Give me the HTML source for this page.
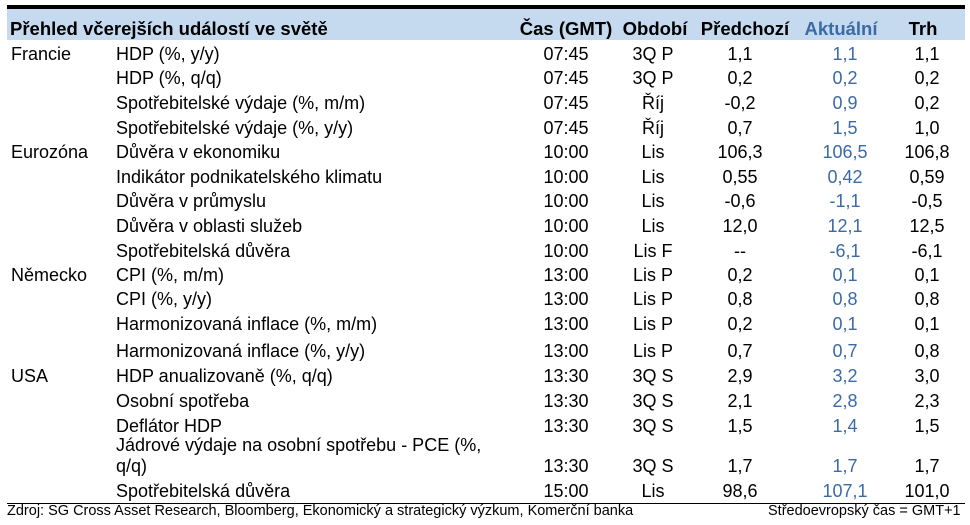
<!DOCTYPE html>
<html><head><meta charset="utf-8"><style>
body{margin:0;width:970px;height:525px;background:#fff;position:relative;overflow:hidden;font-family:"Liberation Sans",Arial,sans-serif;font-size:18px;color:#000}
.t{position:absolute;white-space:nowrap;line-height:20px}
.c{transform:translateX(-50%)}
.b{color:#3b6aa5}
.h{font-weight:bold;font-size:18.5px}
</style></head><body>
<div style="position:absolute;left:7px;top:5px;width:958px;height:4px;background:#000"></div>
<div style="position:absolute;left:7px;top:9px;width:958px;height:31px;background:#c5d9ef"></div>
<div style="position:absolute;left:7px;top:503px;width:958px;height:1px;background:#000"></div>
<div class="t h" style="left:10px;top:19px">Přehled včerejších událostí ve světě</div>
<div class="t h c" style="left:566px;top:19px">Čas (GMT)</div>
<div class="t h c" style="left:655px;top:19px">Období</div>
<div class="t h c" style="left:745px;top:19px">Předchozí</div>
<div class="t h c b" style="left:841px;top:19px">Aktuální</div>
<div class="t h c" style="left:923px;top:19px">Trh</div>
<div id="rows"></div>
<div class="t" style="left:7px;top:501px;font-size:14.5px">Zdroj: SG Cross Asset Research, Bloomberg, Ekonomický a strategický výzkum, Komerční banka</div>
<div class="t" style="left:768px;top:501px;font-size:14.5px">Středoevropský čas = GMT+1</div>
<script>
var R=[
[44,"Francie","HDP (%, y/y)","07:45","3Q P","1,1","1,1","1,1"],
[68,"","HDP (%, q/q)","07:45","3Q P","0,2","0,2","0,2"],
[93,"","Spotřebitelské výdaje (%, m/m)","07:45","Říj","-0,2","0,9","0,2"],
[118,"","Spotřebitelské výdaje (%, y/y)","07:45","Říj","0,7","1,5","1,0"],
[142,"Eurozóna","Důvěra v ekonomiku","10:00","Lis","106,3","106,5","106,8"],
[167,"","Indikátor podnikatelského klimatu","10:00","Lis","0,55","0,42","0,59"],
[191,"","Důvěra v průmyslu","10:00","Lis","-0,6","-1,1","-0,5"],
[216,"","Důvěra v oblasti služeb","10:00","Lis","12,0","12,1","12,5"],
[241,"","Spotřebitelská důvěra","10:00","Lis F","--","-6,1","-6,1"],
[265,"Německo","CPI (%, m/m)","13:00","Lis P","0,2","0,1","0,1"],
[289,"","CPI (%, y/y)","13:00","Lis P","0,8","0,8","0,8"],
[314,"","Harmonizovaná inflace (%, m/m)","13:00","Lis P","0,2","0,1","0,1"],
[341,"","Harmonizovaná inflace (%, y/y)","13:00","Lis P","0,7","0,7","0,8"],
[366,"USA","HDP anualizovaně (%, q/q)","13:30","3Q S","2,9","3,2","3,0"],
[391,"","Osobní spotřeba","13:30","3Q S","2,1","2,8","2,3"],
[416,"","Deflátor HDP","13:30","3Q S","1,5","1,4","1,5"],
[456,"","q/q)","13:30","3Q S","1,7","1,7","1,7"],
[481,"","Spotřebitelská důvěra","15:00","Lis","98,6","107,1","101,0"]];
var h="";
R.forEach(function(r){var y=r[0];
h+='<div class="t" style="left:11px;top:'+y+'px">'+r[1]+'</div>';
h+='<div class="t" style="left:116px;top:'+y+'px">'+r[2]+'</div>';
h+='<div class="t c" style="left:566px;top:'+y+'px">'+r[3]+'</div>';
h+='<div class="t c" style="left:653px;top:'+y+'px">'+r[4]+'</div>';
h+='<div class="t c" style="left:740px;top:'+y+'px">'+r[5]+'</div>';
h+='<div class="t c b" style="left:845px;top:'+y+'px">'+r[6]+'</div>';
h+='<div class="t c" style="left:927px;top:'+y+'px">'+r[7]+'</div>';});
h+='<div class="t" style="left:116px;top:435px">Jádrové výdaje na osobní spotřebu - PCE (%,</div>';
document.getElementById("rows").innerHTML=h;
</script>
</body></html>
